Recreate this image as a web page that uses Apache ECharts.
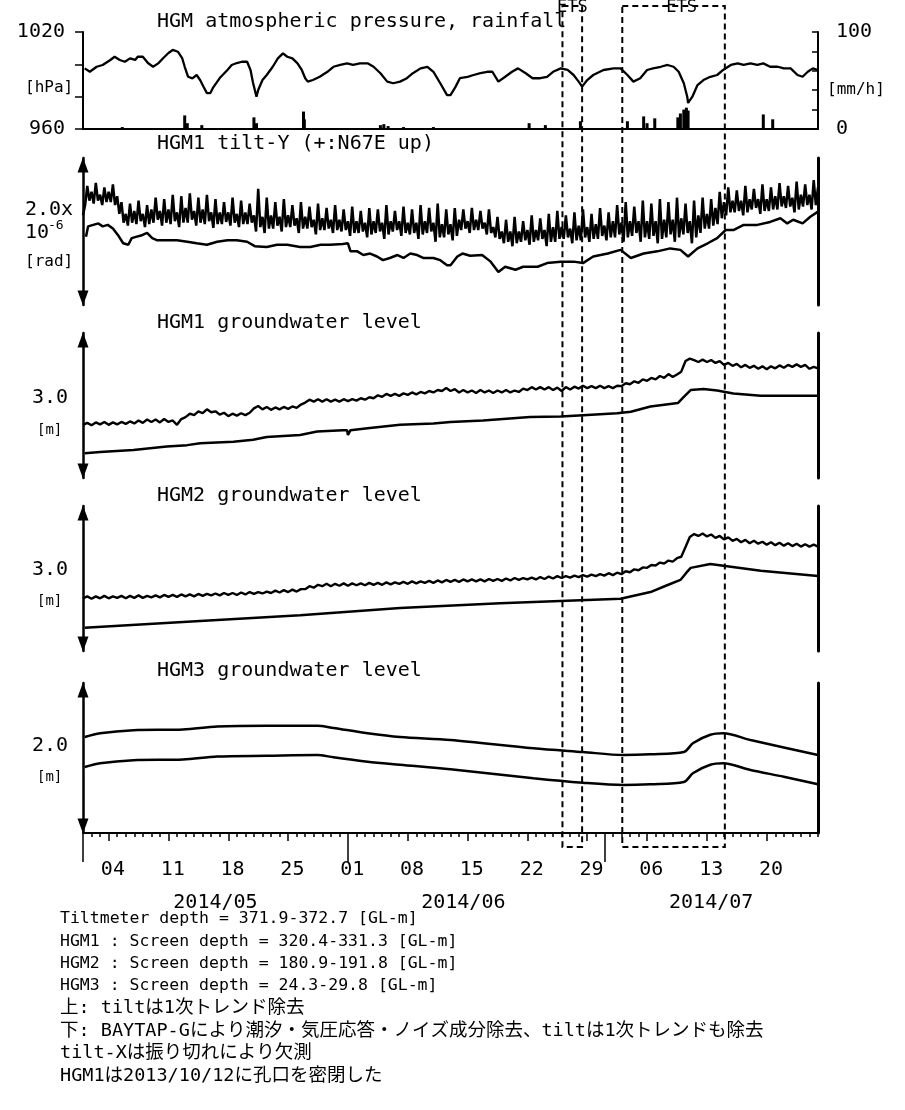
<!DOCTYPE html>
<html><head><meta charset="utf-8">
<script src="https://cdn.jsdelivr.net/npm/echarts@6/dist/echarts.min.js"></script>
<style>html,body{margin:0;padding:0;background:#fff}#c{width:905px;height:1110px}</style>
</head><body><div id="c"></div>
<script>
// ---------- DATA (x = days since 2014/05/01 00:00) ----------
const pDays = [0.2,0.8,1.6,2.3,3.2,3.7,4.3,4.9,5.5,6.1,6.4,7.0,7.6,8.2,8.8,9.4,10.0,10.5,11.1,11.6,11.9,12.3,12.8,13.3,13.7,14.1,14.5,14.9,15.2,16.0,16.9,17.4,18.0,18.6,19.2,19.6,19.9,20.3,20.5,21.0,21.5,22.2,22.8,23.4,23.9,24.5,25.1,25.6,26.0,26.3,26.9,27.7,28.6,29.3,30.1,30.9,31.6,32.4,33.3,34.0,34.8,35.6,36.3,37.1,37.9,38.6,39.5,40.3,41.0,41.8,42.6,43.0,43.6,44.1,45.0,45.7,46.5,47.3,47.9,48.6,49.4,50.2,50.9,51.8,52.6,53.5,54.3,55.0,55.9,56.7,57.4,58.0,58.4,59.0,59.7,60.9,62.1,62.9,63.7,64.4,65.2,66.0,66.7,67.6,68.4,69.1,69.7,70.3,70.7,70.8,71.3,71.9,72.6,73.4,74.2,74.9,75.8,76.6,77.3,78.1,78.9,79.6,80.4,81.3,82.0,82.8,83.6,84.2,84.8,85.4,86.0];
const pressure = [997.5,995.4,998.5,999.6,1002.7,1004.7,1002.7,1001.6,1003.7,1002.7,1004.7,1004.7,1000.8,998.5,1000.6,1003.9,1007.0,1008.9,1007.8,1003.9,998.5,992.3,991.3,993.4,990.3,986.1,982.2,982.2,985.4,991.5,996.5,999.6,1000.8,1001.6,1001.6,996.5,988.5,980.0,984.1,990.3,993.4,998.5,1003.7,1006.8,1004.7,1003.7,1000.6,996.5,991.4,989.3,990.3,992.3,995.4,998.5,999.6,1000.6,999.6,1000.6,1000.6,998.5,994.5,989.3,988.3,989.3,991.4,994.5,997.5,998.5,995.4,988.3,981.0,981.0,986.2,991.4,992.3,993.4,994.5,995.4,995.4,989.3,992.3,995.4,997.5,994.5,991.4,991.4,992.3,995.4,997.5,996.5,993.4,989.3,986.2,990.3,993.4,996.5,997.5,997.5,993.4,989.3,991.4,996.5,997.5,998.5,999.6,998.5,995.4,988.3,980.0,976.1,980.0,987.2,990.3,992.3,993.4,996.5,999.6,1000.6,999.6,1000.6,999.6,1000.6,998.5,998.5,997.5,997.5,993.4,992.3,995.4,997.5,996.5];

const rainDays = [4.6,11.9,12.2,13.9,20.0,20.3,25.8,25.9,34.8,35.2,35.7,37.5,41.0,48.5,52.2,54.1,58.2,63.7,65.6,66.0,66.9,69.6,69.9,70.3,70.6,70.8,79.6,80.7];
const rainfall = [2,14,6,4,12,6,18,10,4,5,3,2,2,1,6,4,8,8,13,6,11,12,16,20,22,19,15,10];

// tilt-Y, upper trace: one value every 0.25 day from day 0 (4 per day)
const tiltUp = [
1.22,1.36,1.62,1.42, 1.54,1.38,1.66,1.42, 1.50,1.36,1.60,1.40, 1.54,1.40,1.64,1.36, 1.48,1.24,1.40,1.12,
1.24,1.08,1.38,1.12, 1.28,1.10,1.42,1.14, 1.24,1.06,1.36,1.10, 1.30,1.12,1.46,1.16, 1.28,1.08,1.44,1.12,
1.30,1.10,1.50,1.14, 1.26,1.06,1.48,1.12, 1.32,1.12,1.52,1.16, 1.28,1.08,1.46,1.12, 1.30,1.10,1.50,1.14,
1.26,1.05,1.44,1.10, 1.26,1.10,1.40,1.13, 1.26,1.08,1.46,1.12, 1.24,1.06,1.42,1.10, 1.26,1.10,1.38,1.12,
1.22,1.00,1.58,1.06, 1.20,0.98,1.46,1.04, 1.22,1.04,1.40,1.08, 1.20,1.00,1.44,1.06, 1.22,1.06,1.36,1.08,
1.18,0.98,1.40,1.04, 1.20,1.04,1.34,1.06, 1.16,0.96,1.38,1.02, 1.18,1.02,1.32,1.04, 1.16,0.98,1.36,1.02,
1.16,1.00,1.30,1.02, 1.14,0.94,1.34,0.98, 1.14,0.98,1.28,1.00, 1.12,0.92,1.32,0.96, 1.14,0.98,1.30,1.00,
1.12,0.90,1.36,0.96, 1.14,1.00,1.28,1.02, 1.14,0.94,1.34,0.98, 1.12,0.96,1.30,0.98, 1.12,0.90,1.36,0.96,
1.14,0.98,1.32,1.00, 1.12,0.86,1.38,0.92, 1.10,0.92,1.30,0.96, 1.10,0.88,1.32,0.94, 1.16,1.02,1.30,1.04,
1.14,0.98,1.32,1.02, 1.16,1.02,1.28,1.04, 1.12,0.96,1.30,0.98, 1.06,0.92,1.20,0.90, 1.00,0.84,1.16,0.86,
1.00,0.80,1.20,0.84, 1.00,0.86,1.14,0.88, 1.02,0.82,1.22,0.86, 1.02,0.88,1.18,0.90, 1.02,0.80,1.24,0.86,
1.06,0.86,1.28,0.90, 1.06,0.90,1.22,0.92, 1.04,0.84,1.26,0.88, 1.08,0.88,1.30,0.92, 1.06,0.86,1.24,0.90,
1.10,0.90,1.32,0.94, 1.08,0.88,1.26,0.92, 1.14,0.92,1.36,0.96, 1.12,0.86,1.40,0.92, 1.14,0.94,1.34,0.98,
1.14,0.86,1.42,0.92, 1.14,0.90,1.38,0.94, 1.14,0.84,1.44,0.90, 1.16,0.92,1.40,0.96, 1.16,0.86,1.46,0.92,
1.18,0.96,1.38,0.98, 1.14,0.84,1.42,0.92, 1.22,0.98,1.46,1.04, 1.24,1.04,1.44,1.08, 1.32,1.10,1.54,1.18,
1.40,1.22,1.60,1.26, 1.42,1.26,1.56,1.28, 1.42,1.22,1.62,1.26, 1.44,1.30,1.58,1.32, 1.44,1.24,1.64,1.28,
1.44,1.28,1.60,1.30, 1.48,1.30,1.66,1.34, 1.48,1.32,1.62,1.34, 1.46,1.26,1.68,1.30, 1.50,1.34,1.64,1.36,
1.50,1.30,1.70,1.36, 1.60];
const tiltLoDays = [0.35,0.6,1.2,1.8,2.3,2.9,3.5,4.1,4.7,5.3,5.7,6.3,6.9,7.5,8.1,8.7,9.8,11.0,12.2,13.3,14.5,15.7,16.9,18.0,19.2,20.1,21.5,22.7,23.9,25.4,26.6,27.8,28.9,30.4,31.0,31.3,32.1,32.8,33.6,34.4,35.1,35.9,36.8,37.5,38.3,39.1,39.8,41.0,41.8,42.6,43.0,43.8,44.4,45.3,46.7,47.7,48.6,49.4,50.6,51.5,53.2,54.3,55.9,57.4,58.5,59.7,61.4,62.9,64.1,65.6,67.2,68.7,69.9,70.8,71.9,73.1,74.2,75.2,76.1,77.3,78.9,80.4,81.6,82.4,83.1,84.2,85.1,86.0];
const tiltLo = [0.93,1.07,1.09,1.11,1.07,1.09,1.04,0.95,0.84,0.82,0.91,0.93,0.95,0.98,0.91,0.88,0.88,0.88,0.86,0.84,0.82,0.86,0.88,0.88,0.86,0.80,0.79,0.82,0.82,0.79,0.79,0.82,0.82,0.83,0.84,0.73,0.73,0.68,0.70,0.66,0.61,0.64,0.68,0.64,0.70,0.68,0.64,0.64,0.61,0.54,0.54,0.66,0.70,0.67,0.68,0.59,0.45,0.52,0.48,0.52,0.52,0.57,0.59,0.59,0.57,0.66,0.70,0.75,0.64,0.70,0.73,0.77,0.75,0.66,0.77,0.84,0.91,1.02,1.02,1.09,1.09,1.13,1.18,1.11,1.16,1.11,1.20,1.27];

// HGM1 groundwater, upper trace every 0.5 day
const gw1Up = [1.10,1.14,1.09,1.15,1.11,1.16,1.10,1.15,1.11,1.16,1.12,1.17,1.13,1.19,1.14,1.21,1.16,1.21,1.15,1.22,
1.16,1.19,1.10,1.22,1.26,1.33,1.30,1.38,1.34,1.42,1.36,1.38,1.31,1.35,1.28,1.33,1.29,1.34,1.30,1.35,
1.44,1.49,1.42,1.47,1.41,1.46,1.42,1.47,1.43,1.48,1.45,1.52,1.56,1.62,1.58,1.63,1.58,1.63,1.58,1.62,
1.58,1.63,1.59,1.63,1.60,1.65,1.62,1.67,1.65,1.71,1.68,1.74,1.70,1.74,1.70,1.75,1.72,1.77,1.73,1.78,
1.75,1.80,1.77,1.82,1.80,1.86,1.80,1.84,1.77,1.82,1.77,1.81,1.76,1.82,1.77,1.81,1.76,1.81,1.77,1.82,
1.77,1.81,1.78,1.85,1.82,1.88,1.83,1.88,1.83,1.88,1.82,1.87,1.80,1.88,1.83,1.89,1.85,1.91,1.86,1.90,
1.86,1.91,1.86,1.90,1.86,1.91,1.90,1.96,1.94,2.00,1.97,2.04,2.01,2.07,2.04,2.11,2.07,2.15,2.09,2.14,
2.20,2.42,2.47,2.44,2.40,2.45,2.40,2.44,2.38,2.42,2.34,2.38,2.32,2.36,2.29,2.34,2.28,2.32,2.26,2.31,
2.25,2.31,2.27,2.33,2.28,2.34,2.30,2.35,2.30,2.34,2.26,2.30,2.27];
const gw1LoDays = [0.2,2.0,5.9,9.8,12.2,13.7,17.6,19.9,21.5,25.4,27.4,30.4,30.9,31.0,31.3,33.3,37.1,41.0,43.0,46.8,52.3,55.9,58.5,62.5,64.1,66.4,69.6,70.3,71.1,72.6,74.2,76.1,79.3,82.0,86.0];
const gw1Lo = [0.51,0.54,0.58,0.65,0.68,0.72,0.75,0.79,0.85,0.89,0.96,0.99,0.99,0.89,0.99,1.03,1.10,1.13,1.16,1.19,1.26,1.27,1.30,1.34,1.37,1.48,1.55,1.68,1.82,1.84,1.81,1.75,1.70,1.70,1.70];

// HGM2 groundwater, upper trace every 0.5 day
const gw2Up = [1.09,1.13,1.08,1.13,1.09,1.14,1.09,1.13,1.10,1.14,1.09,1.14,1.10,1.15,1.10,1.14,1.11,1.15,1.11,1.16,
1.12,1.16,1.12,1.17,1.13,1.17,1.13,1.18,1.14,1.18,1.15,1.19,1.15,1.20,1.16,1.20,1.16,1.21,1.17,1.22,
1.18,1.22,1.19,1.23,1.20,1.25,1.21,1.26,1.22,1.27,1.23,1.28,1.28,1.34,1.31,1.37,1.34,1.39,1.34,1.39,
1.35,1.40,1.35,1.40,1.36,1.40,1.36,1.41,1.37,1.41,1.37,1.42,1.38,1.42,1.39,1.43,1.39,1.44,1.40,1.44,
1.41,1.45,1.41,1.46,1.42,1.47,1.43,1.47,1.43,1.48,1.44,1.48,1.44,1.48,1.44,1.49,1.45,1.49,1.45,1.50,
1.46,1.51,1.47,1.51,1.48,1.52,1.48,1.53,1.49,1.54,1.50,1.55,1.51,1.55,1.52,1.56,1.53,1.57,1.54,1.58,
1.55,1.59,1.56,1.61,1.57,1.62,1.59,1.65,1.63,1.69,1.67,1.73,1.72,1.78,1.77,1.83,1.81,1.87,1.85,1.92,
1.95,2.15,2.36,2.42,2.38,2.43,2.37,2.41,2.34,2.38,2.31,2.35,2.28,2.32,2.25,2.30,2.23,2.28,2.22,2.26,
2.20,2.25,2.19,2.24,2.18,2.23,2.17,2.22,2.16,2.21,2.16,2.20,2.16];
const gw2LoDays = [0.2,13.7,25.4,37.1,48.8,62.9,66.4,68.2,69.9,70.6,71.1,73.4,79.3,86.0];
const gw2Lo = [0.48,0.62,0.74,0.89,0.99,1.08,1.22,1.35,1.47,1.62,1.72,1.80,1.66,1.55];

// HGM3 groundwater
const gw3Days = [0.2,2.0,5.9,11.7,15.7,21.5,27.4,29.3,33.3,37.1,43.0,52.7,58.5,63.2,66.4,70.3,71.4,73.4,74.9,78.1,82.0,86.0];
const gw3Up = [1.28,1.33,1.37,1.38,1.42,1.43,1.43,1.40,1.33,1.28,1.24,1.13,1.08,1.04,1.05,1.08,1.20,1.31,1.33,1.24,1.14,1.04];
const gw3Lo = [0.88,0.93,0.97,0.98,1.02,1.03,1.04,1.01,0.95,0.91,0.85,0.73,0.67,0.64,0.65,0.68,0.80,0.91,0.93,0.84,0.75,0.65];

// ETS periods (days)
const etsStart = [56.1, 63.1];
const etsEnd = [58.4, 75.1];

// axis ticks / labels
const weekTickDays = [3,10,17,24,31,38,45,52,59,66,73,80];
const weekLabels = ['04','11','18','25','01','08','15','22','29','06','13','20'];
const monthTickDays = [0,31,61];
const monthLabels = ['2014/05','2014/06','2014/07'];
const monthLabelDays = [15.5,44.5,73.5];

const notes = [
 'Tiltmeter depth = 371.9-372.7 [GL-m]',
 'HGM1 : Screen depth = 320.4-331.3 [GL-m]',
 'HGM2 : Screen depth = 180.9-191.8 [GL-m]',
 'HGM3 : Screen depth = 24.3-29.8 [GL-m]',
 '上: tiltは1次トレンド除去',
 '下: BAYTAP-Gにより潮汐・気圧応答・ノイズ成分除去、tiltは1次トレンドも除去',
 'tilt-Xは振り切れにより欠測',
 'HGM1は2013/10/12に孔口を密閉した'
];

// ---------- CHART ----------
const MONO = '"DejaVu Sans Mono", monospace';
const JP = '"DejaVu Sans Mono", "Noto Sans CJK JP", monospace';
const BLACK = '#000';
const dayTicks = Array.from({length: 87}, (_, i) => i);
const weekLabelDays = weekTickDays.map(d => d + 0.5);
const pairs = (xs, ys) => xs.slice(0, Math.min(xs.length, ys.length)).map((x, i) => [x, ys[i]]);
const stepped = (ys, step) => ys.map((y, i) => [i * step, y]);
const lookup = (poss, labs) => v => { for (let i = 0; i < poss.length; i++) if (Math.abs(poss[i] - v) < 0.01) return labs[i]; return ''; };

const chart = echarts.init(document.getElementById('c'), null, {renderer: 'canvas', width: 905, height: 1110});

const grids = [
  {left: 83, right: 87, top: 32, height: 97},
  {left: 83, right: 87, top: 158, height: 147},
  {left: 83, right: 87, top: 333, height: 145},
  {left: 83, right: 87, top: 506, height: 145},
  {left: 83, right: 87, top: 683, height: 150}
].map(g => Object.assign({outerBoundsMode: 'none', containLabel: false}, g));

const hiddenX = gi => ({type: 'value', gridIndex: gi, min: 0, max: 86, show: false});
const noSplit = {splitLine: {show: false}};
const xAxes = [
  Object.assign({type: 'value', gridIndex: 0, min: 0, max: 86, position: 'bottom',
    axisLine: {show: true, onZero: false, lineStyle: {color: BLACK, width: 2}},
    axisTick: {show: false}, axisLabel: {show: false}}, noSplit),
  hiddenX(1), hiddenX(2), hiddenX(3),
  Object.assign({type: 'value', gridIndex: 4, min: 0, max: 86, position: 'bottom',
    axisLine: {show: true, onZero: false, lineStyle: {color: BLACK, width: 2}},
    axisTick: {show: true, customValues: dayTicks, length: 4, lineStyle: {color: BLACK, width: 1.5}},
    axisLabel: {show: true, customValues: weekLabelDays, formatter: lookup(weekLabelDays, weekLabels),
      margin: 27, fontSize: 20, fontFamily: MONO, color: BLACK}}, noSplit),
  Object.assign({type: 'value', gridIndex: 4, min: 0, max: 86, position: 'bottom',
    axisLine: {show: false, onZero: false},
    axisTick: {show: true, customValues: weekTickDays, length: 8, lineStyle: {color: BLACK, width: 1.5}},
    axisLabel: {show: false}}, noSplit),
  Object.assign({type: 'value', gridIndex: 4, min: 0, max: 86, position: 'bottom',
    axisLine: {show: false, onZero: false},
    axisTick: {show: true, customValues: monthTickDays, length: 29, lineStyle: {color: BLACK, width: 1.5}},
    axisLabel: {show: true, customValues: monthLabelDays, formatter: lookup(monthLabelDays, monthLabels),
      margin: 60, fontSize: 20, fontFamily: MONO, color: BLACK}}, noSplit)
];

const leftArrow = (gi, max) => Object.assign({type: 'value', gridIndex: gi, min: 0, max: max, position: 'left',
  axisLine: {show: true, onZero: false, symbol: ['triangle', 'triangle'], symbolSize: [11, 15], symbolOffset: [7, -7],
    lineStyle: {color: BLACK, width: 2.5}},
  axisTick: {show: false}, axisLabel: {show: false}}, noSplit);
const rightBar = (gi, max) => Object.assign({type: 'value', gridIndex: gi, min: 0, max: max, position: 'right',
  axisLine: {show: true, onZero: false, lineStyle: {color: BLACK, width: 3}},
  axisTick: {show: false}, axisLabel: {show: false}}, noSplit);

const yAxes = [
  Object.assign({type: 'value', gridIndex: 0, min: 960, max: 1020, interval: 20, position: 'left',
    axisLine: {show: true, onZero: false, lineStyle: {color: BLACK, width: 2}},
    axisTick: {show: true, length: 8, lineStyle: {color: BLACK, width: 1.5}},
    axisLabel: {formatter: v => (v === 1020 || v === 960) ? String(v) : '', margin: 18, fontSize: 20, fontFamily: MONO, color: BLACK}}, noSplit),
  Object.assign({type: 'value', gridIndex: 0, min: 0, max: 100, interval: 20, position: 'right',
    axisLine: {show: true, onZero: false, lineStyle: {color: BLACK, width: 2}},
    axisTick: {show: true, inside: true, length: 6, lineStyle: {color: BLACK, width: 1.5}},
    axisLabel: {formatter: v => (v === 100 || v === 0) ? String(v) : '', margin: 18, fontSize: 20, fontFamily: MONO, color: BLACK}}, noSplit),
  leftArrow(1, 2), rightBar(1, 2),
  leftArrow(2, 3), rightBar(2, 3),
  leftArrow(3, 3), rightBar(3, 3),
  leftArrow(4, 2), rightBar(4, 2)
];

const line = (xi, yi, data, w, smooth) => ({type: 'line', xAxisIndex: xi, yAxisIndex: yi, data: data,
  showSymbol: false, symbol: 'none', smooth: smooth || false, silent: true,
  lineStyle: {color: BLACK, width: w || 2.2}});

const series = [
  line(0, 0, pairs(pDays, pressure), 2.3),
  {type: 'bar', xAxisIndex: 0, yAxisIndex: 1, data: pairs(rainDays, rainfall), barWidth: 3,
    itemStyle: {color: BLACK}, silent: true},
  line(1, 2, stepped(tiltUp, 0.25), 2.5),
  line(1, 2, pairs(tiltLoDays, tiltLo), 2.5),
  line(2, 4, stepped(gw1Up, 0.5), 2.4),
  line(2, 4, pairs(gw1LoDays, gw1Lo), 2.5),
  line(3, 6, stepped(gw2Up, 0.5), 2.4),
  line(3, 6, pairs(gw2LoDays, gw2Lo), 2.5),
  line(4, 8, pairs(gw3Days, gw3Up), 2.5, 0.3),
  line(4, 8, pairs(gw3Days, gw3Lo), 2.5, 0.3)
];

chart.setOption({
  animation: false,
  backgroundColor: '#fff',
  grid: grids, xAxis: xAxes, yAxis: yAxes, series: series
});

// ---------- annotations ----------
const T = (x, y, s, size, fam, align) => ({type: 'text', x: x, y: y, z: 50, silent: true,
  style: {text: s, font: size + 'px ' + (fam || MONO), fill: BLACK, align: align || 'left', verticalAlign: 'middle'}});

const g = [
  T(157, 22, 'HGM atmospheric pressure, rainfall', 20),
  T(157, 144, 'HGM1 tilt-Y (+:N67E up)', 20),
  T(157, 323, 'HGM1 groundwater level', 20),
  T(157, 496, 'HGM2 groundwater level', 20),
  T(157, 671, 'HGM3 groundwater level', 20),
  T(25, 88, '[hPa]', 16),
  T(827, 90, '[mm/h]', 16),
  T(25, 210, '2.0x', 20),
  T(25, 233, '10', 20),
  T(48, 226, '-6', 13),
  T(25, 262, '[rad]', 16),
  T(32, 398, '3.0', 20),
  T(37, 430, '[m]', 14),
  T(32, 570, '3.0', 20),
  T(37, 601, '[m]', 14),
  T(32, 746, '2.0', 20),
  T(37, 777, '[m]', 14)
];
notes.forEach((s, i) => g.push(T(60, 919 + i * 22.4, s, i < 4 ? 16.5 : 18.5, i < 4 ? MONO : JP)));

const gx = d => chart.convertToPixel({xAxisIndex: 4}, d);
etsStart.forEach((s, i) => {
  const x0 = gx(s), x1 = gx(etsEnd[i]);
  g.push({type: 'rect', z: 40, silent: true, shape: {x: x0, y: 6, width: x1 - x0, height: 841},
    style: {fill: 'none', stroke: BLACK, lineWidth: 2, lineDash: [6, 4]}});
  g.push(T((x0 + x1) / 2 + (i === 1 ? 8 : 0), 8, 'ETS', 17, MONO, 'center'));
});
chart.setOption({graphic: g});
</script></body></html>
